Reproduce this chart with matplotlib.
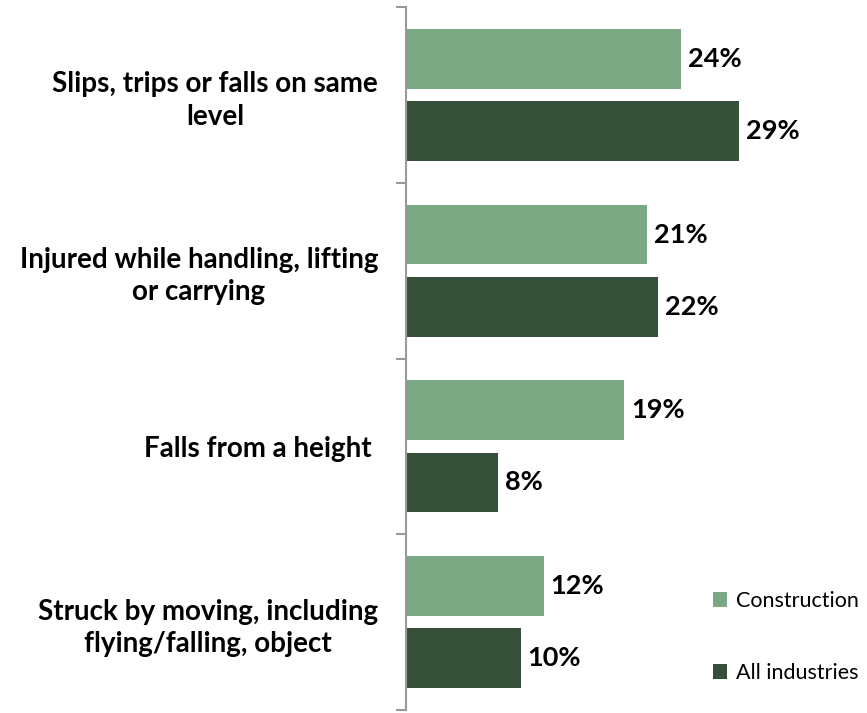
import matplotlib.pyplot as plt
import numpy as np

plt.rcParams["font.family"] = ["Lato", "DejaVu Sans"]

categorias = [
    "Slips, trips or falls on same\nlevel",
    "Injured while handling, lifting\nor carrying",
    "Falls from a height ",
    "Struck by moving, including\nflying/falling, object",
]
construccion = [24, 21, 19, 12]
todas = [29, 22, 8, 10]
series = ["Construction", "All industries"]

COLOR_CLARO = "#7aa882"
COLOR_OSCURO = "#36503a"

W, H = 867, 713
fig = plt.figure(figsize=(W / 100, H / 100), dpi=100)
ax = fig.add_axes([406 / W, 3 / H, (865 - 406) / W, (706 - 3) / H])

y = np.arange(len(categorias))
desp = 0.205
alto_barra = 0.34

b1 = ax.barh(y - desp, construccion, height=alto_barra, color=COLOR_CLARO, label=series[0])
b2 = ax.barh(y + desp, todas, height=alto_barra, color=COLOR_OSCURO, label=series[1])

for barras, valores in [(b1, construccion), (b2, todas)]:
    for barra, v in zip(barras, valores):
        ax.annotate(
            f"{v}%",
            (barra.get_width(), barra.get_y() + barra.get_height() / 2),
            xytext=(5, 0), textcoords="offset points",
            va="center", ha="left", fontsize=19.5, fontweight="bold",
        )

ax.set_xlim(0, 40)
ax.set_ylim(len(categorias) - 0.5, -0.5)

# ticks entre grupos
ax.set_yticks(np.arange(len(categorias) + 1) - 0.5)
ax.set_yticklabels([])
ax.tick_params(axis="y", length=7, color="#999999", width=1.5)
ax.set_yticks(y, minor=True)
ax.set_yticklabels(categorias, minor=True, fontsize=20, fontweight="bold",
                   ha="right", multialignment="center", linespacing=1.3)
ax.tick_params(axis="y", which="minor", length=0, pad=20)
ax.set_xticks([])

for lado in ["top", "right", "bottom"]:
    ax.spines[lado].set_visible(False)
ax.spines["left"].set_color("#999999")
ax.spines["left"].set_linewidth(1.5)

ax.legend(
    loc="lower right", bbox_to_anchor=(1.029, 0.011), frameon=False,
    fontsize=15.5, handlelength=0.65, handleheight=0.65, handletextpad=0.4,
    labelspacing=2.4,
)

fig.savefig("out.png", dpi=100)
